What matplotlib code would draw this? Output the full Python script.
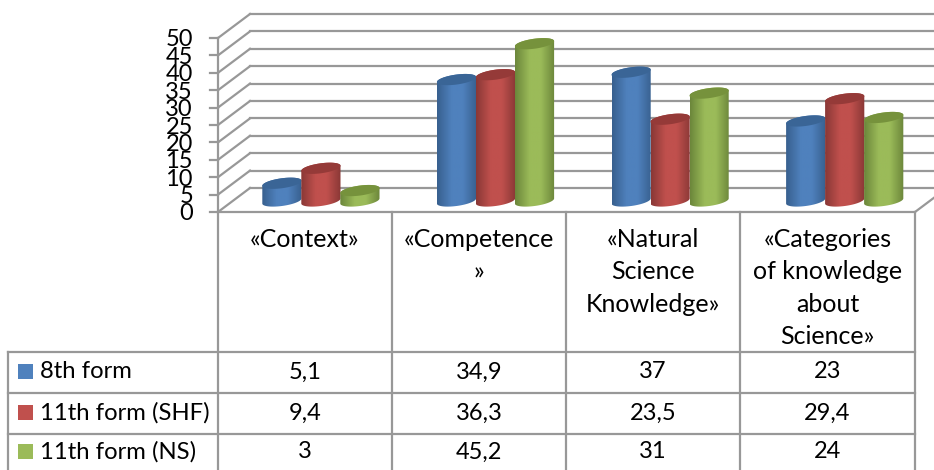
import numpy as np
import matplotlib
matplotlib.use('Agg')
import matplotlib.pyplot as plt
from matplotlib.colors import LinearSegmentedColormap
from matplotlib.patches import Polygon, Rectangle

plt.rcParams['font.family'] = ['Lato', 'DejaVu Sans']

W, H = 934, 470

category_lines = [
    ['«Context»'],
    ['«Competence', '»'],
    ['«Natural', 'Science', 'Knowledge»'],
    ['«Categories', 'of knowledge', 'about', 'Science»'],
]
series_names = ['8th form', '11th form (SHF)', '11th form (NS)']
form8 = [5.1, 34.9, 37, 23]
form11_shf = [9.4, 36.3, 23.5, 29.4]
form11_ns = [3, 45.2, 31, 24]
y_ticks = [0, 5, 10, 15, 20, 25, 30, 35, 40, 45, 50]

series = [form8, form11_shf, form11_ns]
base_colors = ['#4F81BD', '#C0504D', '#9BBB59']
edge_colors = ['#38608F', '#8A3836', '#6C873B']
top_colors = ['#3A6596', '#953A38', '#76923C']
grey = '#989898'

fig = plt.figure(figsize=(W / 100, H / 100), dpi=100)

# overlay in pixel units for the table and the frame lines
page = fig.add_axes([0, 0, 1, 1])
page.set_xlim(0, W)
page.set_ylim(H, 0)
page.axis('off')

# plotting plane, halfway through the depth of the box
PX_X0, PX_X1 = 233.6, 932.0
PX_Y0, PX_Y1 = 201.0, 27.0
ax = fig.add_axes([PX_X0 / W, 1 - PX_Y0 / H, (PX_X1 - PX_X0) / W, (PX_Y0 - PX_Y1) / H])
ax.set_xlim(0, 4)
ax.set_ylim(0, 50)
ax.axis('off')
ax.patch.set_alpha(0)

ux = 4 / (PX_X1 - PX_X0)
uy = 50 / (PX_Y0 - PX_Y1)

# offsets from the plotting plane to the front and back of the box, in pixels
FRONT = (-15.6, 11.0)
BACK = (16.4, -13.0)
RIGHT_END = 4 + (915 - PX_X1) * ux

for v in y_ticks:
    fx = FRONT[0] * ux
    fy = v - FRONT[1] * uy
    bx = BACK[0] * ux
    by = v - BACK[1] * uy
    # side wall, back wall, tick mark
    ax.plot([fx, bx], [fy, by], color=grey, lw=1.6, clip_on=False, zorder=1)
    ax.plot([bx, 4.2], [by, by], color=grey, lw=1.6, clip_on=False, zorder=1)
    ax.plot([fx - 8 * ux, fx], [fy, fy], color=grey, lw=1.6, clip_on=False, zorder=1)
    ax.text(fx - 25 * ux, fy - 2 * uy, str(v), ha='right', va='center', fontsize=17,
            color='black', clip_on=False)

# left edge and floor edges
fx0 = FRONT[0] * ux
ax.plot([fx0, fx0], [-FRONT[1] * uy, 50 - FRONT[1] * uy], color=grey, lw=1.6, clip_on=False, zorder=1)
ax.plot([RIGHT_END, RIGHT_END + 32 * ux], [-FRONT[1] * uy, -FRONT[1] * uy + 24 * uy],
        color=grey, lw=1.6, clip_on=False, zorder=1)


def cylinder(cx, value, k):
    # half width and minor radius of the end caps, with a slight tilt
    a = 19.6
    b = 5.0
    tilt = 0.13
    t = np.linspace(0, 2 * np.pi, 120)
    ex = a * np.cos(t) * ux
    ey = (a * tilt * np.cos(t) + b * np.sin(t)) * uy

    # body outline: lower half of the base, then upper half of the top cap
    low = t >= np.pi
    up = t <= np.pi
    body_x = np.concatenate([cx + ex[low], cx + ex[up]])
    body_y = np.concatenate([ey[low], value + ey[up]])
    body = Polygon(np.column_stack([body_x, body_y]), closed=True, fc='none', ec='none',
                   transform=ax.transData, clip_on=False)
    ax.add_patch(body)

    cmap = LinearSegmentedColormap.from_list(
        'cyl', [edge_colors[k], base_colors[k], base_colors[k], edge_colors[k]])
    grad = cmap(np.array([np.interp(np.linspace(0, 1, 64), [0, 0.4, 0.62, 1], [0, 0.36, 0.64, 1])]))
    im = ax.imshow(grad, extent=[cx - a * ux, cx + a * ux, -20, 60], aspect='auto',
                   zorder=3 + k, interpolation='bilinear')
    # the base cap hangs below the axes, so only the body outline clips the image
    im.set_clip_box(fig.bbox)
    im.set_clip_path(body)
    ax.add_patch(Polygon(np.column_stack([cx + ex, value + ey]), closed=True,
                         fc=top_colors[k], ec='none', zorder=3 + k, clip_on=False))


bar_step = 39.0 * ux
for i in range(4):
    for k, vals in enumerate(series):
        cylinder(i + 0.5 + (k - 1) * bar_step, vals[i], k)
ax.set_xlim(0, 4)
ax.set_ylim(0, 50)

# data table below the box
col_x = [218, 392, 566, 740, 915]
row_y = [351.5, 392.5, 434, 470]
lw_t = 1.6
page.plot([218, 915], [212, 212], color=grey, lw=lw_t)
for x in col_x:
    page.plot([x, x], [212, 470], color=grey, lw=lw_t)
page.plot([8, 8], [351.5, 470], color=grey, lw=lw_t)
for y in row_y[:3]:
    page.plot([8, 915], [y, y], color=grey, lw=lw_t)

for i, lines in enumerate(category_lines):
    cx = (col_x[i] + col_x[i + 1]) / 2
    for n, line in enumerate(lines):
        page.text(cx, 239.5 + n * 32.3, line, ha='center', va='center', fontsize=18, color='black')

for r, name in enumerate(series_names):
    yc = (row_y[r] + row_y[r + 1]) / 2 - 0.5
    page.add_patch(Rectangle((18, yc - 7.5), 15, 15, fc=base_colors[r], ec='none'))
    page.text(39.5, yc + 0.5, name, ha='left', va='center', fontsize=17.2, color='black')
    for i, v in enumerate(series[r]):
        cx = (col_x[i] + col_x[i + 1]) / 2
        page.text(cx, yc + 0.5, str(v).replace('.', ','), ha='center', va='center',
                  fontsize=17, color='black')

fig.savefig('out.png', dpi=100, facecolor='white')
